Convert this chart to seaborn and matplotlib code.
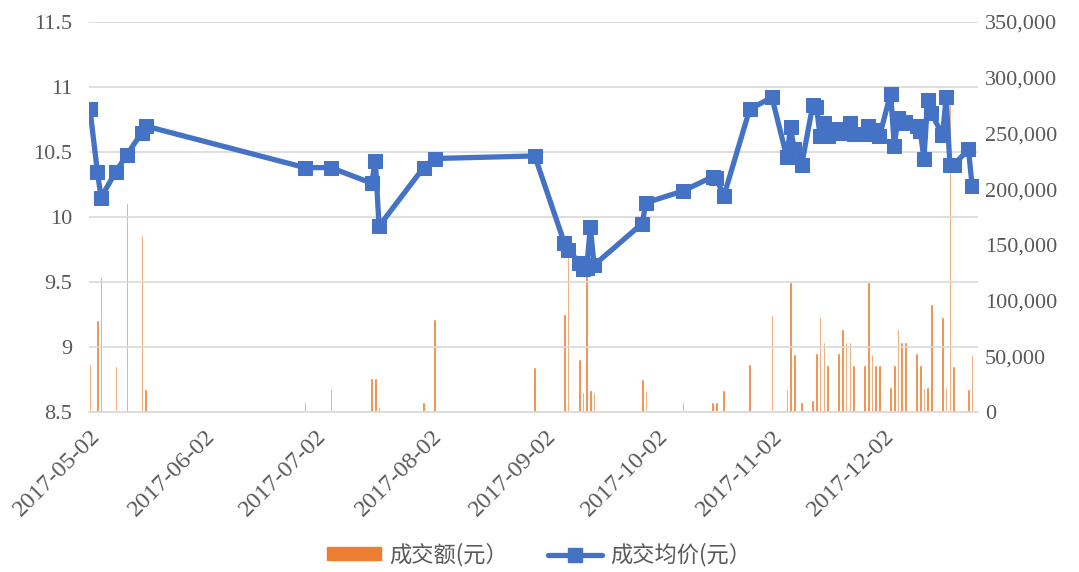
import matplotlib
matplotlib.use("Agg")
import matplotlib.pyplot as plt
import matplotlib.dates as mdates
from matplotlib.patches import Patch
from matplotlib.lines import Line2D
from matplotlib.ticker import FuncFormatter
import seaborn as sns
import pandas as pd

# trade dates (2017)
dates = ['05-02', '05-04', '05-05', '05-09', '05-12', '05-16', '05-17',
         '06-29', '07-06', '07-17', '07-18', '07-19', '07-31', '08-03',
         '08-30', '09-07', '09-08', '09-11', '09-12', '09-13', '09-14', '09-15',
         '09-28', '09-29', '10-09', '10-17', '10-18', '10-20', '10-27',
         '11-02', '11-06', '11-07', '11-08', '11-10', '11-13', '11-14', '11-15', '11-16', '11-17',
         '11-20', '11-21', '11-22', '11-23', '11-24', '11-27', '11-28', '11-29', '11-30', '12-01',
         '12-04', '12-05', '12-06', '12-07', '12-08', '12-11', '12-12', '12-13', '12-14', '12-15',
         '12-18', '12-19', '12-20', '12-21', '12-25', '12-26']

# 成交额(元)
amount = [43000, 82500, 121000, 41300, 188000, 159000, 20600,
          9000, 20600, 30500, 30500, 4500, 9000, 83500,
          40400, 88000, 145000, 47500, 18000, 135000, 19700, 18000,
          29600, 19700, 9000, 9000, 9000, 19700, 43000,
          87000, 20600, 116700, 52000, 9000, 10800, 53000, 85000, 63000, 42000,
          53000, 74500, 63000, 63000, 42000, 42000, 116700, 52000, 42000, 42000,
          22400, 42000, 74500, 63000, 63000, 53000, 42000, 21500, 22400, 97000,
          85000, 22400, 290000, 41000, 20600, 51000]

# 成交均价(元)
price = [10.83, 10.35, 10.15, 10.35, 10.48, 10.65, 10.70,
         10.38, 10.38, 10.26, 10.43, 9.93, 10.38, 10.45,
         10.47, 9.80, 9.75, 9.65, 9.60, 9.61, 9.92, 9.63,
         9.95, 10.11, 10.20, 10.31, 10.30, 10.16, 10.83,
         10.92, 10.46, 10.69, 10.52, 10.40, 10.86, 10.85, 10.62, 10.72, 10.62,
         10.68, 10.65, 10.67, 10.72, 10.64, 10.64, 10.70, 10.64, 10.67, 10.62,
         10.95, 10.55, 10.76, 10.72, 10.73, 10.70, 10.66, 10.45, 10.90, 10.80,
         10.63, 10.92, 10.40, 10.40, 10.52, 10.24]

df = pd.DataFrame({'date': pd.to_datetime(['2017-' + d for d in dates]),
                   'amount': amount, 'price': price})

sns.set_style("white")
plt.rcParams['font.family'] = ['Liberation Serif', 'Noto Sans CJK SC', 'DejaVu Sans']

orange = '#ED7D31'
blue = '#4472C4'
grey = '#595959'

fig = plt.figure(figsize=(10.79, 5.72), dpi=100)
ax = fig.add_axes([0.0825, 0.2797, 0.8239, 0.6818])
ax2 = ax.twinx()

# bars on the right axis, drawn underneath
ax2.bar(df['date'], df['amount'], width=0.7, color=orange, zorder=1)
ax2.set_ylim(0, 350000)
ax2.set_yticks(range(0, 350001, 50000))
ax2.yaxis.set_major_formatter(FuncFormatter(lambda v, p: f'{int(v):,}'))

# price line on the left axis, on top
ax.set_zorder(ax2.get_zorder() + 1)
ax.patch.set_visible(False)
sns.lineplot(data=df, x='date', y='price', ax=ax, color=blue, linewidth=3.8,
             marker='s', markersize=10.5, markeredgecolor=blue, zorder=3)
ax.set_ylim(8.5, 11.5)
ax.set_yticks([8.5, 9, 9.5, 10, 10.5, 11, 11.5])
ax.set_yticklabels(['8.5', '9', '9.5', '10', '10.5', '11', '11.5'])
ax.grid(axis='y', color='#d9d9d9', linewidth=1.2)
ax.set_xlim(pd.Timestamp('2017-05-01 18:00'), pd.Timestamp('2017-12-27 14:00'))
ax.xaxis.set_major_locator(mdates.MonthLocator(bymonthday=2))
ax.xaxis.set_major_formatter(mdates.DateFormatter('%Y-%m-%d'))
ax.set_xlabel('')
ax.set_ylabel('')

for a in (ax, ax2):
    for s in ('top', 'left', 'right'):
        a.spines[s].set_visible(False)
    a.spines['bottom'].set_color('#d9d9d9')
    a.spines['bottom'].set_linewidth(1.2)
ax2.spines['bottom'].set_visible(False)

ax.tick_params(axis='y', length=0, labelsize=16, labelcolor=grey, pad=12)
ax2.tick_params(axis='y', length=0, labelsize=16, labelcolor=grey, pad=5)
ax.tick_params(axis='x', length=5, width=1.2, color='#d9d9d9', labelsize=17.5,
               labelcolor=grey, pad=5)
for lab in ax.get_xticklabels():
    lab.set_rotation(45)
    lab.set_ha('right')
    lab.set_rotation_mode('anchor')

handles = [Patch(color=orange),
           Line2D([0], [0], color=blue, linewidth=3.8, marker='s', markersize=10)]
fig.legend(handles, ['成交额(元）', '成交均价(元）'], loc='center',
           bbox_to_anchor=(0.5, 0.03), ncol=2, frameon=False, handlelength=2.4,
           columnspacing=1.8, handleheight=0.5, handletextpad=0.4,
           prop={'family': ['Noto Sans CJK SC', 'DejaVu Sans'], 'size': 16},
           labelcolor=grey)

fig.savefig('out.png', dpi=100)
